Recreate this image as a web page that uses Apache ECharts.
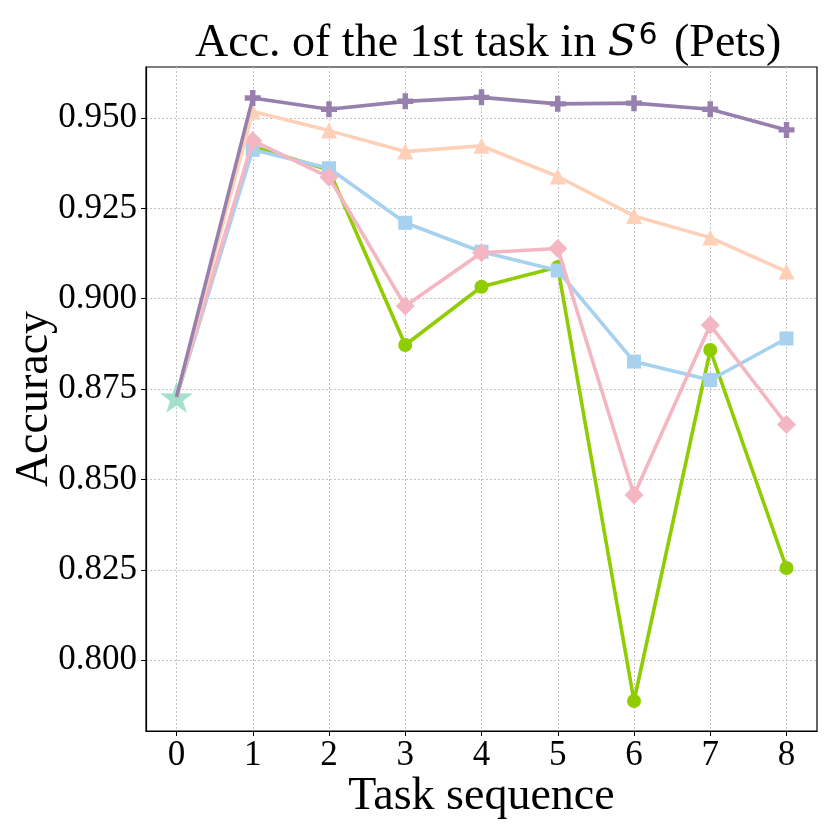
<!DOCTYPE html>
<html>
<head>
<meta charset="utf-8">
<script src="https://cdn.jsdelivr.net/npm/echarts@6/dist/echarts.min.js"></script>
<style>html,body{margin:0;padding:0;background:#fff;}#c{width:830px;height:830px;}</style>
</head>
<body>
<div id="c"></div>
<script>
var tasks = [0, 1, 2, 3, 4, 5, 6, 7, 8];
var xTicks = [0, 1, 2, 3, 4, 5, 6, 7, 8];
var yTicks = [0.800, 0.825, 0.850, 0.875, 0.900, 0.925, 0.950];
var startAcc = 0.8728;
var purpleAcc = [0.8728, 0.9555, 0.9524, 0.9546, 0.9557, 0.9539, 0.9541, 0.9524, 0.9467];
var peachAcc  = [0.8728, 0.9518, 0.9465, 0.9407, 0.9423, 0.9338, 0.9229, 0.9169, 0.9075];
var blueAcc   = [0.8728, 0.9412, 0.9361, 0.9210, 0.9130, 0.9078, 0.8826, 0.8775, 0.8890];
var pinkAcc   = [0.8728, 0.9437, 0.9336, 0.8980, 0.9127, 0.9139, 0.8457, 0.8927, 0.8652];
var greenAcc  = [0.8728, 0.9421, 0.9356, 0.8872, 0.9033, 0.9088, 0.7887, 0.8858, 0.8255];

var STAR = 'path://M50,0 L61.8,35.1 L97.6,34.5 L68.8,56.9 L79.4,90.5 L50,70 L20.6,90.5 L31.2,56.9 L2.4,34.5 L38.2,35.1 Z';
var PLUS = 'path://M33,0 H67 V33 H100 V67 H67 V100 H33 V67 H0 V33 H33 Z';

function pts(arr) {
  return arr.map(function (v, i) {
    if (i === 0) return { value: [tasks[i], v], symbol: 'none' };
    return [tasks[i], v];
  });
}
function line(arr, color, symbol, size, z) {
  return {
    type: 'line', data: pts(arr), symbol: symbol, symbolSize: size, symbolKeepAspect: true,
    showSymbol: true, z: z,
    lineStyle: { color: color, width: 3.6 },
    itemStyle: { color: color, borderWidth: 0 }
  };
}

var chart = echarts.init(document.getElementById('c'), null, { renderer: 'canvas' });
var serif = 'Liberation Serif, Times New Roman, serif';
chart.setOption({
  animation: false,
  backgroundColor: '#fff',
  title: {
    text: 'Acc. of the 1st task in {s|S}{sup|6} (Pets)',
    left: 190, top: 16,
    textStyle: {
      fontFamily: serif, fontSize: 46, fontWeight: 'normal', color: '#000',
      rich: {
        s: { fontFamily: 'DejaVu Serif', fontStyle: 'italic', fontSize: 42, color: '#000', padding: [0, 2, 0, 0] },
        sup: { fontFamily: 'DejaVu Sans', fontSize: 30, color: '#000', verticalAlign: 'top', padding: [0, 5, 0, 0] }
      }
    }
  },
  grid: { left: 146, right: 13, top: 67, bottom: 99, outerBoundsMode: 'none', containLabel: false,
    show: true, borderColor: '#000', borderWidth: 1.2, backgroundColor: 'transparent' },
  xAxis: {
    type: 'value', min: -0.4, max: 8.4,
    name: 'Task sequence', nameLocation: 'middle', nameGap: 43, nameMoveOverlap: false,
    nameTextStyle: { fontFamily: serif, fontSize: 46, color: '#000' },
    axisLine: { show: true, onZero: false, lineStyle: { color: '#000', width: 1.2 } },
    axisTick: { show: true, length: 5, inside: false, customValues: xTicks, lineStyle: { color: '#000', width: 1 } },
    axisLabel: { customValues: xTicks, fontFamily: serif, fontSize: 35, color: '#000', margin: 7 },
    splitLine: { show: true, lineStyle: { color: '#c4c4c4', width: 1, type: [2, 2] } }
  },
  yAxis: {
    type: 'value', min: 0.7804, max: 0.9641,
    name: 'Accuracy', nameLocation: 'middle', nameGap: 88, nameMoveOverlap: false,
    nameTextStyle: { fontFamily: serif, fontSize: 46, color: '#000' },
    axisLine: { show: true, onZero: false, lineStyle: { color: '#000', width: 1.2 } },
    axisTick: { show: true, length: 5, inside: false, customValues: yTicks, lineStyle: { color: '#000', width: 1 } },
    axisLabel: { customValues: yTicks, fontFamily: serif, fontSize: 35, color: '#000', margin: 9,
      formatter: function (v) { return v.toFixed(3); } },
    splitLine: { show: true, lineStyle: { color: '#c4c4c4', width: 1, type: [2, 2] } }
  },
  series: [
    { type: 'scatter', data: [[tasks[0], startAcc]], symbol: STAR, symbolSize: 33, symbolKeepAspect: true,
      itemStyle: { color: '#8dd9c0' }, z: 1 },
    line(greenAcc, '#8fcc00', 'circle', 14, 2),
    line(blueAcc, '#a6d2f0', 'rect', 14, 3),
    line(pinkAcc, '#f4b6c2', 'diamond', 19, 4),
    line(peachAcc, '#ffd0b8', 'triangle', 16, 5),
    line(purpleAcc, '#9780ad', PLUS, 16, 6)
  ]
});
</script>
</body>
</html>
